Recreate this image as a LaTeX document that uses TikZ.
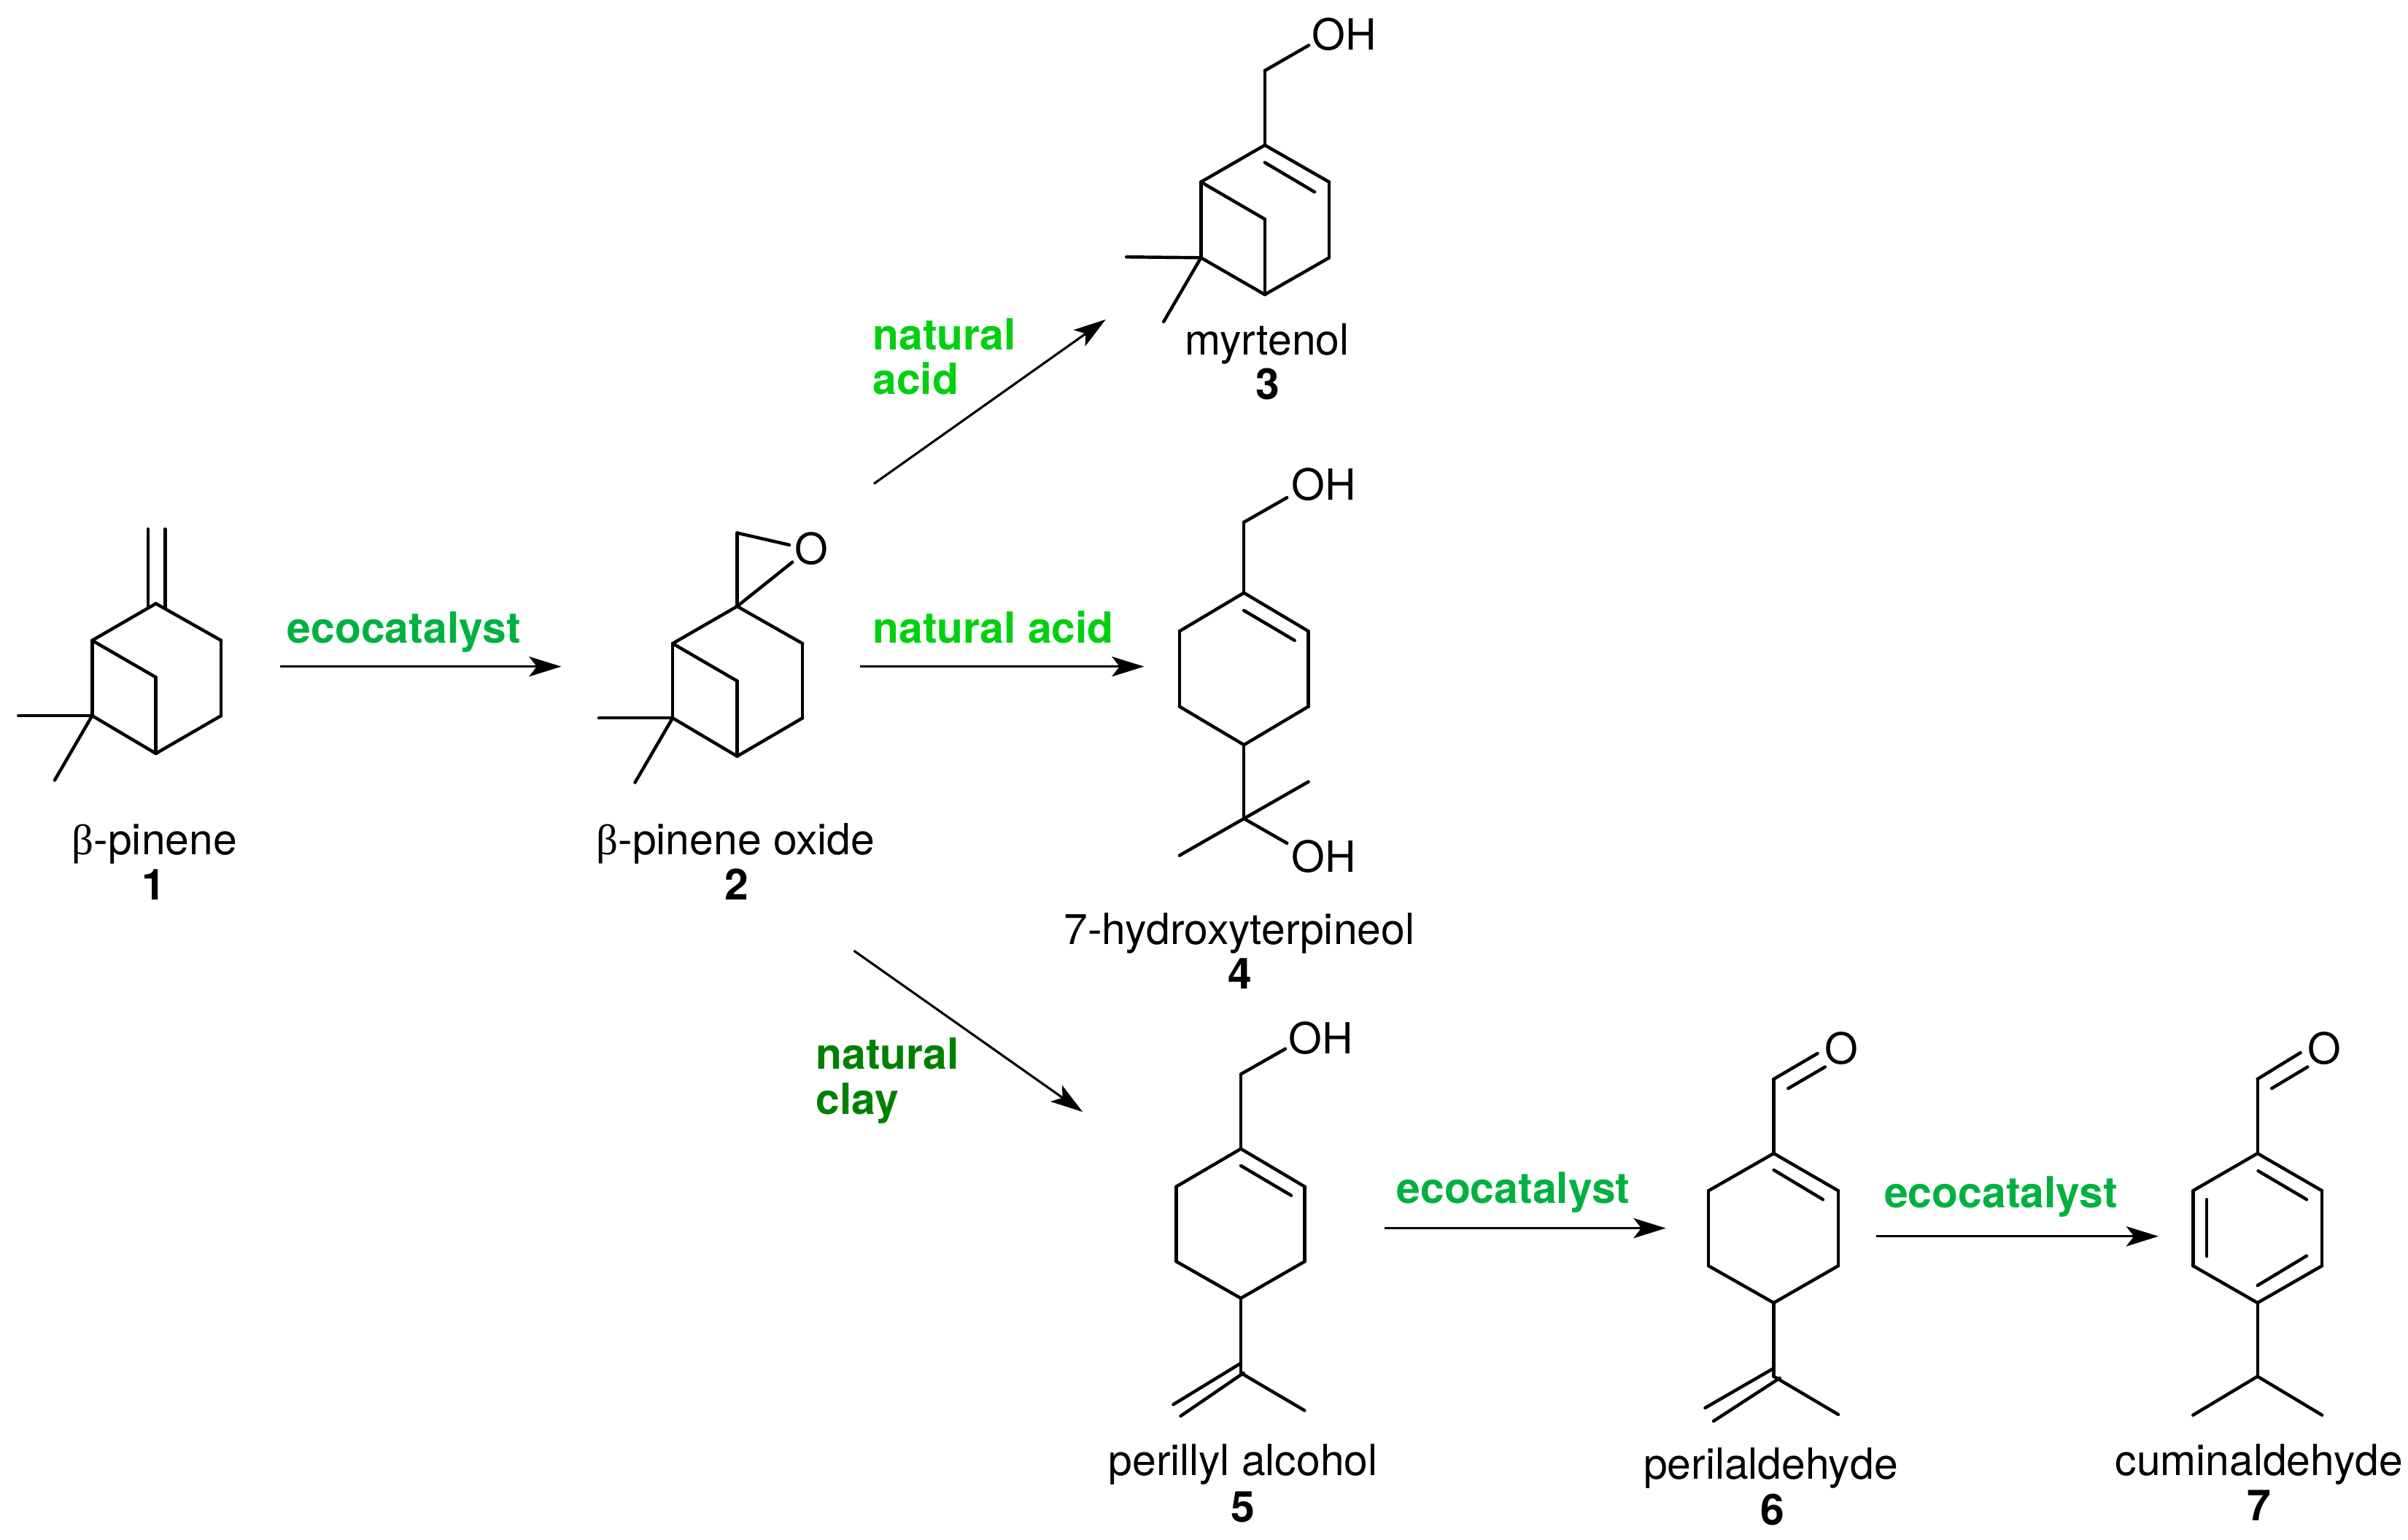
\documentclass[tikz,border=0pt]{standalone}
\usepackage{fontspec}
\setmainfont{TeX Gyre Heros}
\newfontfamily\greekfont{Liberation Serif}
\usetikzlibrary{arrows.meta}
\definecolor{ecogreen}{RGB}{0,177,64}
\definecolor{acidgreen}{RGB}{0,208,16}
\definecolor{claygreen}{RGB}{0,128,0}
\begin{document}
\begin{tikzpicture}[x=0.02cm,y=-0.02cm,every node/.style={inner sep=0pt,font=\fontsize{15.9}{18}\selectfont}]
	\tikzstyle{bond}=[line width=1.2pt,line cap=round,line join=miter]
	\tikzstyle{rxn}=[line width=0.85pt,-{Stealth[length=0.42cm,width=0.26cm,inset=0.1cm]}]
	\tikzstyle{lbl}=[anchor=base]
	\tikzstyle{num}=[anchor=base,font=\fontsize{15.9}{18}\selectfont\bfseries]
	\tikzstyle{eco}=[anchor=base,text=ecogreen,font=\fontsize{15.9}{18}\selectfont\bfseries]
	\tikzstyle{acid}=[anchor=base west,text=acidgreen,font=\fontsize{15.9}{18}\selectfont\bfseries]
	\tikzstyle{clay}=[anchor=base west,text=claygreen,font=\fontsize{15.9}{18}\selectfont\bfseries]
	\useasboundingbox (0,0) rectangle (1568,1002.3);
	
	% beta-pinene
	\foreach \n/\x/\y in {a1/101.5/393,a2/144/417,a3/144/466,a4/101.5/490.6,a5/60/466,a6/60/417,a7/101.5/441,
		a8/12/466,a9/35.6/508,a10/96.5/344.5,a11/96.5/395,a12/107.5/344.5,a13/107.5/396}{
		\coordinate (\n) at (\x,\y);
	};
	\foreach \p/\q in {a1/a2,a2/a3,a3/a4,a4/a5,a5/a6,a6/a1,a6/a7,a7/a4,a5/a8,a5/a9,a10/a11,a12/a13}{
		\draw[bond] (\p) -- (\q);
	};
	\node[lbl](name1)at(100.6,556.6){{\greekfont β}-pinene};
	\node[num](num1)at(100,585.7){1};
	
	% oxide
	\foreach \n/\x/\y in {b1/480/394.8,b2/522.6/419,b3/522.6/467.5,b4/480/492.4,b5/438/467.5,b6/438/419,b7/480/443.4,
		b8/390/467.5,b9/413.5/509.5,b10/480/347,b11/514/354.8,b12/516/366}{
		\coordinate (\n) at (\x,\y);
	};
	\foreach \p/\q in {b1/b2,b2/b3,b3/b4,b4/b5,b5/b6,b6/b1,b6/b7,b7/b4,b5/b8,b5/b9,b1/b10,b10/b11,b1/b12}{
		\draw[bond] (\p) -- (\q);
	};
	\node[lbl](ox)at(528.5,367.5){O};
	\node[lbl](name2)at(479,556.6){{\greekfont β}-pinene oxide};
	\node[num](num2)at(479.5,585.7){2};
	
	% myrtenol
	\foreach \n/\x/\y in {c1/823.6/94.5,c2/865.5/118.5,c3/865.5/167.8,c4/823.6/191.8,c5/782/167.8,c6/782/118.5,c7/823.6/142.7,
		c8/733.5/167.3,c9/757.7/209.5,c10/823.6/105.8,c11/856/125,c12/823.6/46,c13/852.2/29.5}{
		\coordinate (\n) at (\x,\y);
	};
	\foreach \p/\q in {c1/c2,c2/c3,c3/c4,c4/c5,c5/c6,c6/c1,c6/c7,c7/c4,c5/c8,c5/c9,c10/c11,c1/c12,c12/c13}{
		\draw[bond] (\p) -- (\q);
	};
	\node[lbl](oh3)at(875.2,32.4){OH};
	\node[lbl](name3)at(825,231){myrtenol};
	\node[num](num3)at(825.5,260){3};
	
	% 7-hydroxyterpineol
	\foreach \n/\x/\y in {d1/810/386,d2/852/411,d3/852/460,d4/810/485,d5/768/460,d6/768/411,d7/810/397.5,d8/843/417,
		d9/810/340,d10/838/324,d11/810/533,d12/852/509,d13/768/557,d14/838/549}{
		\coordinate (\n) at (\x,\y);
	};
	\foreach \p/\q in {d1/d2,d2/d3,d3/d4,d4/d5,d5/d6,d6/d1,d7/d8,d1/d9,d9/d10,d4/d11,d11/d12,d11/d13,d11/d14}{
		\draw[bond] (\p) -- (\q);
	};
	\node[lbl](oh4a)at(862,325.6){OH};
	\node[lbl](oh4b)at(862,568){OH};
	\node[lbl](name4)at(807,615){7-hydroxyterpineol};
	\node[num](num4)at(807.5,644){4};
	
	% perillyl alcohol
	\foreach \n/\x/\y in {e1/808/748,e2/849.5/772.6,e3/849.5/821.4,e4/808/845.3,e5/766/821.4,e6/766/772.6,e7/808/759,e8/840.8/778.4,
		e9/808/699.4,e10/837/682.9,e11/808/894,e12/849.5/918.4,e13/808/887.6,e14/764/914.5,e15/809.7/894,e16/768.8/922}{
		\coordinate (\n) at (\x,\y);
	};
	\foreach \p/\q in {e1/e2,e2/e3,e3/e4,e4/e5,e5/e6,e6/e1,e7/e8,e1/e9,e9/e10,e4/e11,e11/e12,e13/e14,e15/e16}{
		\draw[bond] (\p) -- (\q);
	};
	\node[lbl](oh5)at(860,686){OH};
	\node[lbl](name5)at(809.5,960.8){perillyl alcohol};
	\node[num](num5)at(809.5,991){5};
	
	% perilaldehyde
	\foreach \n/\x/\y in {f1/1155/751,f2/1197/775.3,f3/1197/824.2,f4/1155/848.3,f5/1112.5/824.2,f6/1112.5/775.3,f7/1155/761.8,f8/1187/781,
		f9/1155/702.6,f10/1183.5/685.9,f11/1164.4/708.7,f12/1188.4/694.7,f13/1155/896.2,f14/1197/921,
		f15/1155/890.9,f16/1110.3/916.7,f17/1158.9/897.3,f18/1115.8/925.3}{
		\coordinate (\n) at (\x,\y);
	};
	\foreach \p/\q in {f1/f2,f2/f3,f3/f4,f4/f5,f5/f6,f6/f1,f7/f8,f1/f9,f9/f10,f11/f12,f4/f13,f13/f14,f15/f16,f17/f18}{
		\draw[bond] (\p) -- (\q);
	};
	\node[lbl](ox6)at(1199,693){O};
	\node[lbl](name6)at(1153,963){perilaldehyde};
	\node[num](num6)at(1154,993){6};
	
	% cuminaldehyde
	\foreach \n/\x/\y in {g1/1470/751,g2/1512/775.3,g3/1512/824.2,g4/1470/848.3,g5/1428/824.2,g6/1428/775.3,g7/1470.4/762.4,g8/1502/781,
		g9/1437/781,g10/1437/818,g11/1502/817.7,g12/1470/837,g13/1470/702.6,g14/1498/685.4,g15/1479.2/708.7,g16/1502.6/694.7,
		g17/1470/896.2,g18/1428/921.4,g19/1512/921.4}{
		\coordinate (\n) at (\x,\y);
	};
	\foreach \p/\q in {g1/g2,g2/g3,g3/g4,g4/g5,g5/g6,g6/g1,g7/g8,g9/g10,g11/g12,g1/g13,g13/g14,g15/g16,g4/g17,g17/g18,g17/g19}{
		\draw[bond] (\p) -- (\q);
	};
	\node[lbl](ox7)at(1513.6,693){O};
	\node[lbl](name7)at(1471,960.8){cuminaldehyde};
	\node[num](num7)at(1471,990){7};
	
	% reactions
	\foreach \n/\x/\y in {s1/182.5/434,t1/365.5/434,s2/560/434,t2/745/434,s3/569/315,t3/720/208,
		s4/556/619,t4/705/724,s5/901.4/799.7,t5/1084.7/799.7,s6/1221.6/805,t6/1405.5/805}{
		\coordinate (\n) at (\x,\y);
	};
	\foreach \p/\q in {s1/t1,s2/t2,s3/t3,s4/t4,s5/t5,s6/t6}{
		\draw[rxn] (\p) -- (\q);
	};
	\node[eco](cat1)at(263,418.8){ecocatalyst};
	\node[acid](acid2)at(568,418.8){natural acid};
	\node[acid](acid3a)at(568,227.8){natural};
	\node[acid](acid3b)at(568,256.5){acid};
	\node[clay](clay4a)at(531,696){natural};
	\node[clay](clay4b)at(531,725.5){clay};
	\node[eco](cat5)at(985.4,783.3){ecocatalyst};
	\node[eco](cat6)at(1303,786.5){ecocatalyst};
\end{tikzpicture}
\end{document}
